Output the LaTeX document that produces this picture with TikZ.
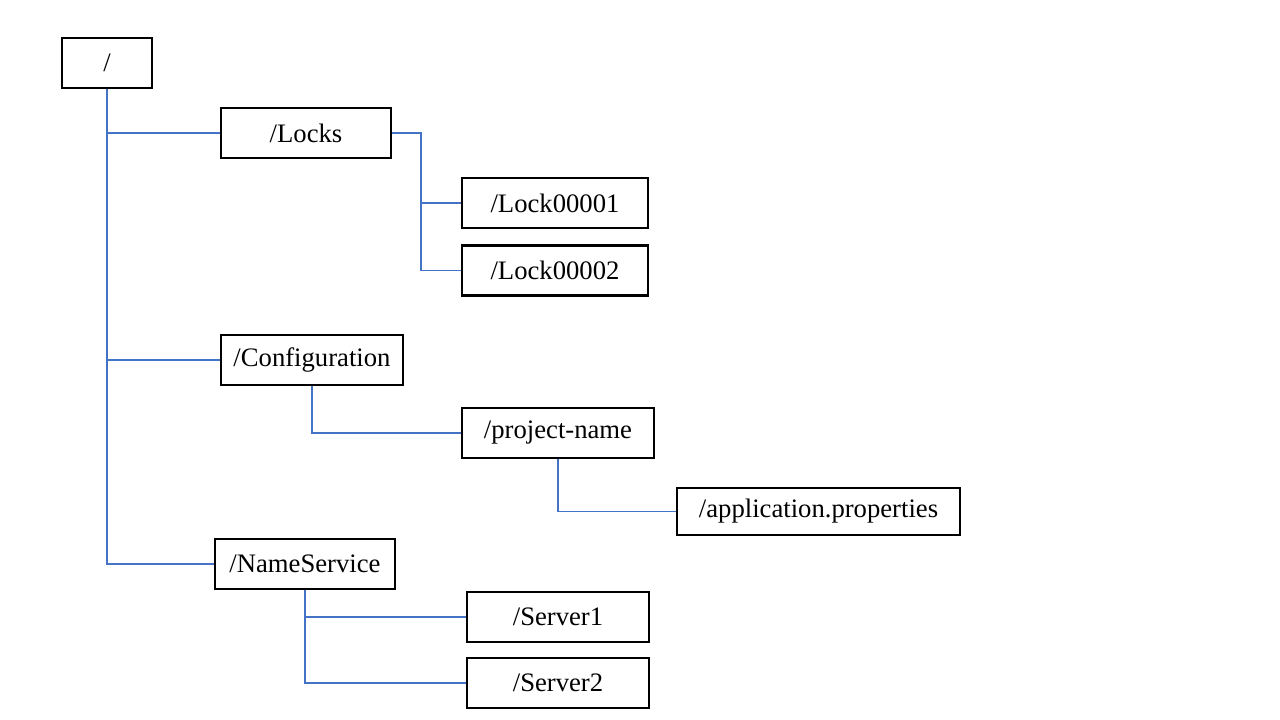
\documentclass[tikz,border=0pt]{standalone}
\usepackage{fontspec}
\setmainfont{Liberation Serif}
\usepackage{tikz}
\usetikzlibrary{positioning}
\definecolor{linkblue}{HTML}{4472C4}

\begin{document}
\begin{tikzpicture}[x=0.75pt, y=-0.75pt,
    dirbox/.style={draw, line width=1.6pt, minimum height=38pt, inner sep=0pt,
        font=\fontsize{20}{24}\selectfont},
    link/.style={draw=linkblue, line width=1.1pt}]
        \useasboundingbox (0,0) rectangle (1280,720);

        \node[dirbox, minimum width=67.5pt] at (107, 63)    (root) {/};
        \node[dirbox, minimum width=127.5pt] at (306, 133)  (locks) {/Locks};
        \node[dirbox, minimum width=139.5pt, minimum height=37.5pt] at (555, 203)  (lock1) {/Lock00001};
        \node[dirbox, minimum width=139.5pt, minimum height=37.5pt] at (555, 270.5) (lock2) {/Lock00002};
        \node[dirbox, minimum width=136.5pt] at (312, 360)  (conf) {/Configuration};
        \node[dirbox, minimum width=144pt, minimum height=37.5pt] at (558, 433)    (proj) {/project-name};
        \node[dirbox, minimum width=212pt, minimum height=35pt] at (818.5, 511.5) (app) {/application.properties};
        \node[dirbox, minimum width=135pt, minimum height=37.5pt] at (305, 564)   (ns) {/NameService};
        \node[dirbox, minimum width=136.5pt] at (558, 617)  (srv1) {/Server1};
        \node[dirbox, minimum width=136.5pt] at (558, 683)  (srv2) {/Server2};

        \coordinate (lk) at (421, 133);

        \draw[link] (root.south) |- (locks.west);
        \draw[link] (root.south) |- (conf.west);
        \draw[link] (root.south) |- (ns.west);
        \draw[link] (locks.east) -- (lk) |- (lock1.west);
        \draw[link] (lk) |- (lock2.west);
        \draw[link] (conf.south) |- (proj.west);
        \draw[link] (proj.south) |- (app.west);
        \draw[link] (ns.south) |- (srv1.west);
        \draw[link] (ns.south) |- (srv2.west);
    \end{tikzpicture}
\end{document}
